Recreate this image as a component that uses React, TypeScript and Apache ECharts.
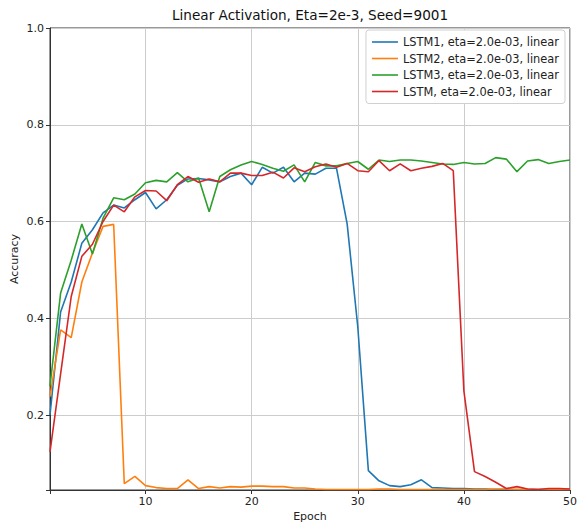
import React, { useEffect, useRef } from "react";
import * as echarts from "echarts";

const epochs = [1,2,3,4,5,6,7,8,9,10,11,12,13,14,15,16,17,18,19,20,21,22,23,24,25,26,27,28,29,30,31,32,33,34,35,36,37,38,39,40,41,42,43,44,45,46,47,48,49,50];

const seriesNames = [
  "LSTM1, eta=2.0e-03, linear",
  "LSTM2, eta=2.0e-03, linear",
  "LSTM3, eta=2.0e-03, linear",
  "LSTM, eta=2.0e-03, linear",
];

const lstm1 = [0.20,0.413,0.475,0.555,0.583,0.618,0.634,0.628,0.645,0.66,0.626,0.645,0.675,0.688,0.689,0.686,0.682,0.693,0.70,0.676,0.712,0.70,0.712,0.682,0.70,0.698,0.71,0.71,0.595,0.383,0.085,0.064,0.054,0.052,0.056,0.066,0.050,0.049,0.048,0.048,0.047,0.047,0.046,0.046,0.046,0.046,0.046,0.046,0.046,0.046];

const lstm2 = [0.238,0.376,0.36,0.475,0.535,0.59,0.594,0.058,0.073,0.054,0.050,0.048,0.048,0.066,0.048,0.052,0.049,0.052,0.051,0.053,0.053,0.052,0.052,0.049,0.049,0.047,0.046,0.046,0.046,0.046,0.046,0.047,0.047,0.046,0.046,0.046,0.046,0.046,0.046,0.046,0.046,0.046,0.047,0.047,0.046,0.046,0.046,0.046,0.046,0.046];

const lstm3 = [0.26,0.452,0.52,0.595,0.533,0.607,0.649,0.645,0.657,0.68,0.685,0.682,0.701,0.682,0.69,0.62,0.693,0.707,0.717,0.724,0.718,0.71,0.704,0.717,0.682,0.722,0.715,0.715,0.72,0.724,0.708,0.727,0.724,0.727,0.727,0.725,0.722,0.719,0.718,0.722,0.719,0.72,0.732,0.729,0.703,0.725,0.728,0.72,0.724,0.727];

const lstm = [0.124,0.285,0.445,0.528,0.553,0.60,0.634,0.62,0.651,0.664,0.663,0.643,0.676,0.693,0.681,0.688,0.682,0.70,0.70,0.695,0.695,0.702,0.69,0.711,0.703,0.713,0.719,0.712,0.72,0.705,0.703,0.726,0.705,0.719,0.705,0.71,0.714,0.72,0.705,0.25,0.083,0.073,0.061,0.048,0.052,0.047,0.046,0.048,0.048,0.047];

const colors = ["#1f77b4", "#ff7f0e", "#2ca02c", "#d62728"];

export default function App() {
  const ref = useRef<HTMLDivElement>(null);
  useEffect(() => {
    if (!ref.current) return;
    const chart = echarts.init(ref.current, null, { renderer: "svg" });
    const all = [lstm1, lstm2, lstm3, lstm];
    const font = "DejaVu Sans";
    chart.setOption({
      animation: false,
      backgroundColor: "#fff",
      color: colors,
      title: {
        text: "Linear Activation, Eta=2e-3, Seed=9001",
        left: 172,
        top: 8,
        padding: 0,
        textStyle: { fontFamily: font, fontSize: 13.6, fontWeight: "normal", color: "#111" },
      },
      legend: {
        orient: "vertical",
        right: 12,
        top: 30,
        data: seriesNames,
        icon: "rect",
        itemWidth: 26,
        itemHeight: 1.6,
        itemGap: 4.5,
        padding: [6, 6, 6, 6],
        backgroundColor: "#fff",
        borderColor: "#d0d0d0",
        borderWidth: 1,
        borderRadius: 3,
        textStyle: { fontFamily: font, fontSize: 11.4, lineHeight: 12, color: "#222" },
      },
      grid: {
        left: 50,
        right: 7,
        top: 28,
        bottom: 34,
        show: true,
        borderColor: "#333",
        borderWidth: 1,
        containLabel: false,
        outerBoundsMode: "none",
      },
      xAxis: {
        type: "value",
        min: 1,
        max: 50,
        name: "Epoch",
        nameLocation: "middle",
        nameGap: 21,
        nameMoveOverlap: false,
        nameTextStyle: { fontFamily: font, fontSize: 11, color: "#222" },
        axisLine: { show: true, lineStyle: { color: "#333", width: 1 } },
        axisTick: { show: true, length: 4, lineStyle: { color: "#333" } },
        axisLabel: {
          fontFamily: font,
          fontSize: 11,
          color: "#222",
          margin: 6,
          formatter: (v: number) => (Math.abs(v % 10) < 1e-9 ? String(v) : ""),
        },
        splitLine: { show: true, lineStyle: { color: "#cccccc", width: 1 } },
      },
      yAxis: {
        type: "value",
        min: 0.045,
        max: 1.0,
        name: "Accuracy",
        nameLocation: "middle",
        nameGap: 30,
        nameMoveOverlap: false,
        nameTextStyle: { fontFamily: font, fontSize: 11, color: "#222" },
        axisLine: { show: true, lineStyle: { color: "#333", width: 1 } },
        axisTick: { show: true, length: 4, lineStyle: { color: "#333" } },
        axisLabel: {
          fontFamily: font,
          fontSize: 11,
          color: "#222",
          margin: 6,
          formatter: (v: number) =>
            Math.abs(v * 5 - Math.round(v * 5)) < 1e-6 ? v.toFixed(1) : "",
        },
        splitLine: { show: true, lineStyle: { color: "#cccccc", width: 1 } },
      },
      series: all.map((vals, k) => ({
        name: seriesNames[k],
        type: "line",
        data: epochs.map((e, i) => [e, vals[i]]),
        symbol: "none",
        showSymbol: false,
        lineStyle: { width: 1.6, color: colors[k] },
        itemStyle: { color: colors[k] },
        z: 2 + k,
      })),
    });
    return () => chart.dispose();
  }, []);
  return (
    <div
      ref={ref}
      style={{ position: "fixed", left: 0, top: 0, width: 577, height: 524 }}
    />
  );
}
